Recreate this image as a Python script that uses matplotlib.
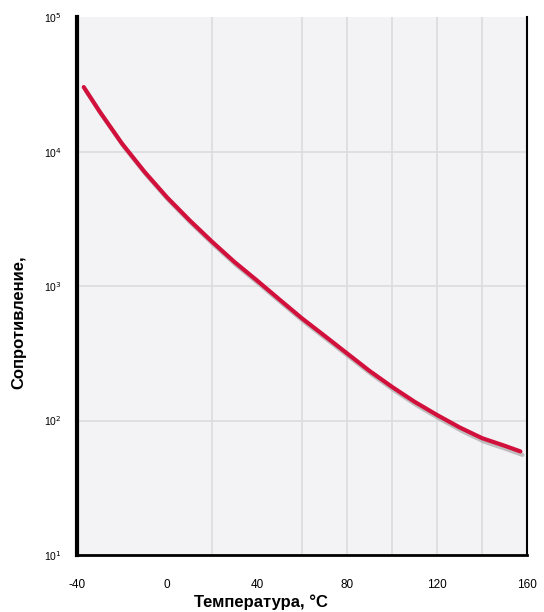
import numpy as np
import matplotlib
matplotlib.use("Agg")
import matplotlib.pyplot as plt
import matplotlib.patheffects as pe

# NTC-like curve (temperature, resistance)
temp_c = [-37, -30, -20, -10, 0, 10, 20, 30, 40, 50, 60, 70, 80, 90,
          100, 110, 120, 130, 140, 150, 157]
resist = [30200, 19950, 11480, 7080, 4570, 3090, 2140, 1510, 1100, 794, 575,
          427, 316, 234, 178, 138, 110, 89, 74, 65, 59]

x_ticks = [-40, 0, 40, 80, 120, 160]
x_grid = [20, 60, 80, 100, 120, 140]
y_ticks = [1e1, 1e2, 1e3, 1e4, 1e5]
y_labels = ["10$^1$", "10$^2$", "10$^3$", "10$^4$", "10$^5$"]

plt.rcParams['font.family'] = ['Liberation Sans', 'DejaVu Sans']

fig = plt.figure(figsize=(5.44, 6.12), dpi=100)
ax = fig.add_axes([0.1415, 0.093, 0.8275, 0.879])
ax.set_facecolor("#f3f2f5")

ax.set_yscale("log")
ax.set_xlim(-40, 160)
ax.set_ylim(1e1, 1e5)

for g in x_grid:
    ax.axvline(g, color="#dcdcdf", lw=1.2, zorder=1)
for g in y_ticks[1:-1]:
    ax.axhline(g, color="#dcdcdf", lw=1.2, zorder=1)

ax.plot(temp_c, resist, color="#d2103c", lw=3, solid_capstyle="round", zorder=3,
        path_effects=[pe.SimpleLineShadow(offset=(1.5, -2.5), shadow_color="#a8a8a8", alpha=0.7),
                      pe.Normal()])

ax.set_xticks(x_ticks)
ax.set_xticklabels([str(t) for t in x_ticks], fontsize=8.5)
ax.set_yticks(y_ticks)
ax.set_yticklabels(y_labels, fontsize=7.5)
ax.yaxis.set_minor_locator(matplotlib.ticker.NullLocator())
ax.tick_params(axis="both", length=0)
ax.tick_params(axis="x", pad=17)
ax.tick_params(axis="y", pad=11)

ax.spines["top"].set_visible(False)
ax.spines["left"].set_linewidth(3)
ax.spines["bottom"].set_linewidth(2)
ax.spines["right"].set_linewidth(1.5)

ax.set_xlabel("Температура, °C", fontsize=12, fontweight="bold")
ax.xaxis.set_label_coords(0.409, -0.073)
ax.set_ylabel("Сопротивление,", fontsize=12, fontweight="bold")
ax.yaxis.set_label_coords(-0.113, 0.433)

fig.savefig("out.png", dpi=100)
